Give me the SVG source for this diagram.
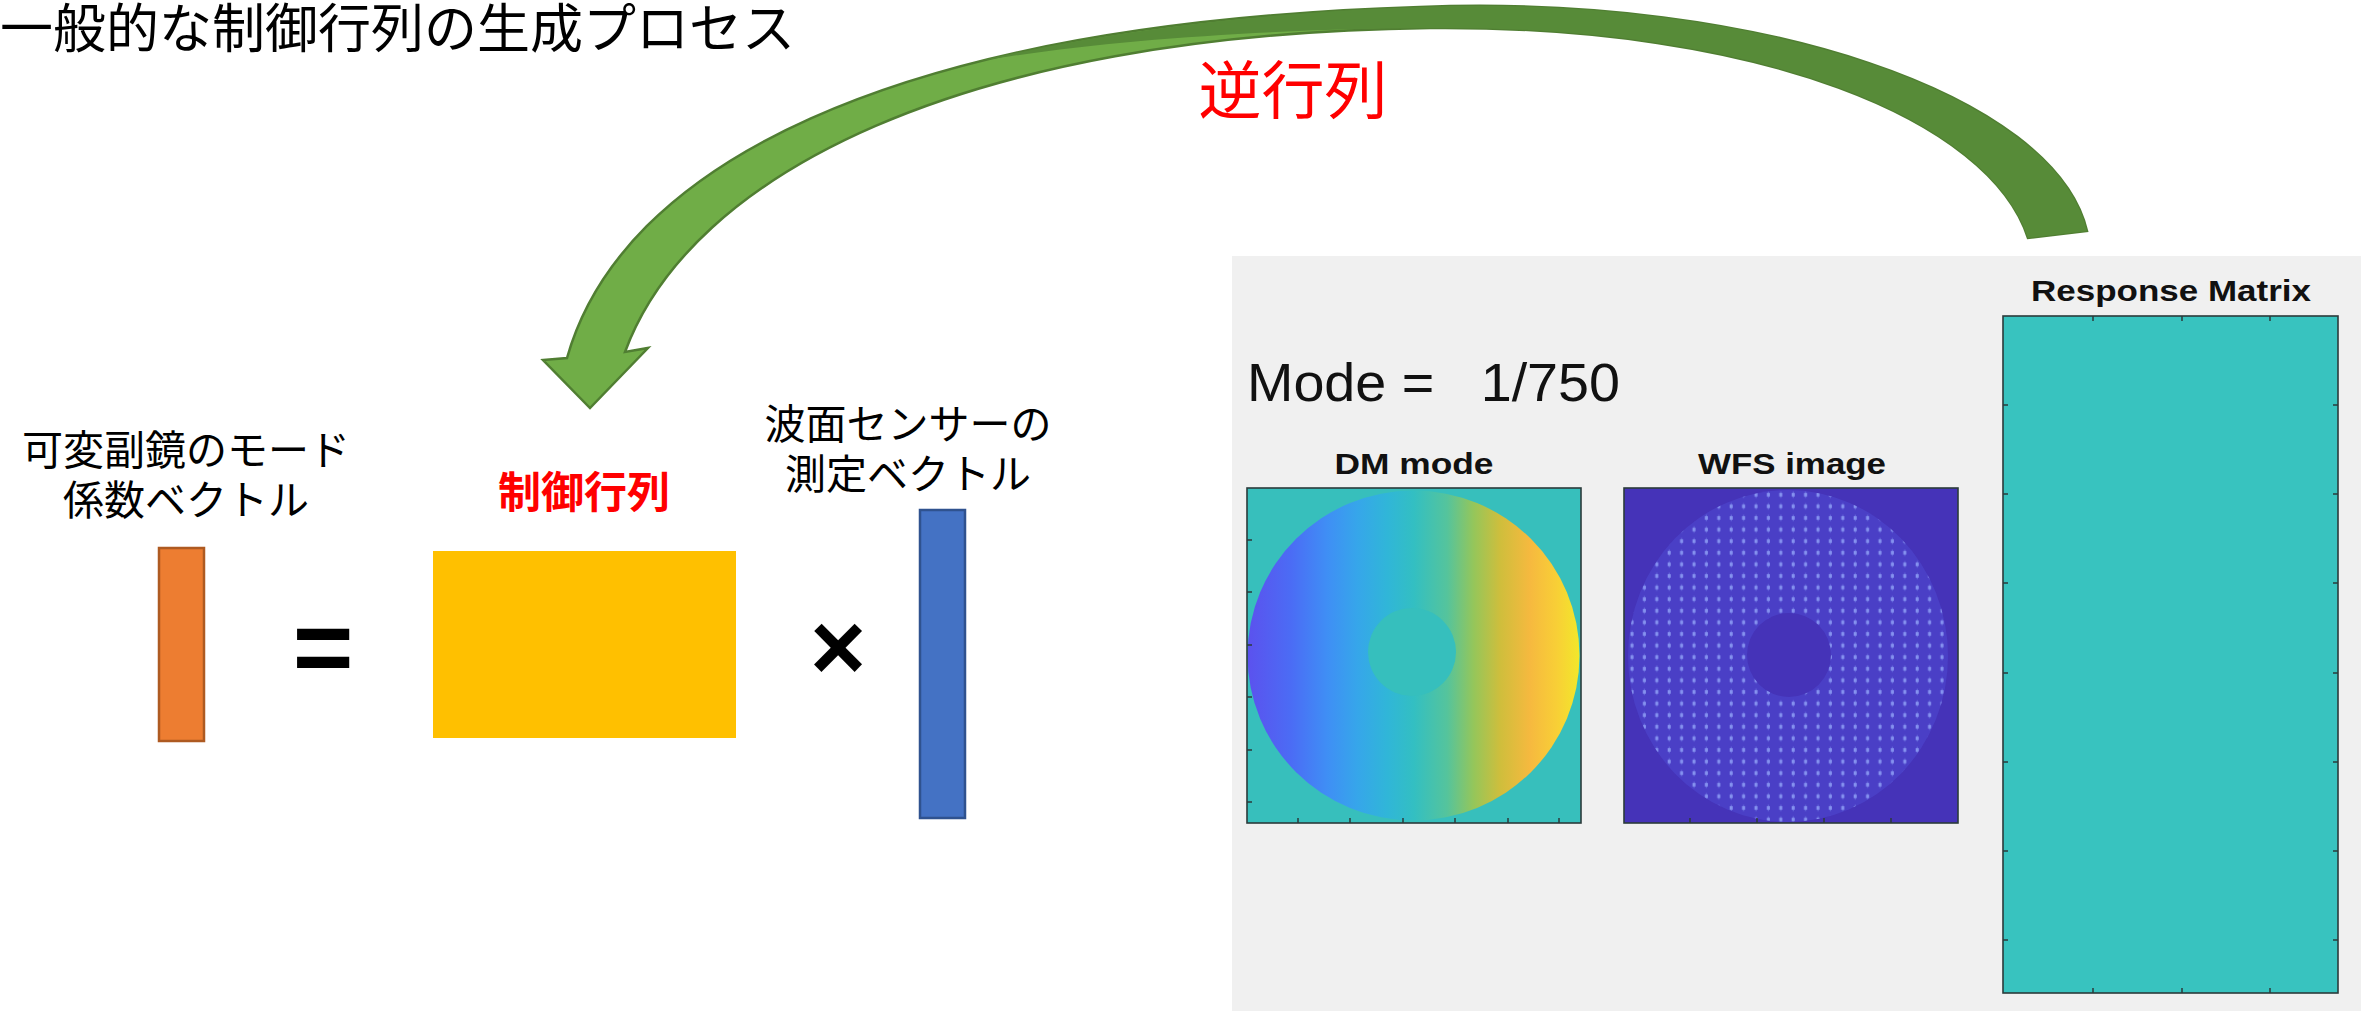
<svg xmlns="http://www.w3.org/2000/svg" width="2361" height="1012" viewBox="0 0 2361 1012">
  <style>
    .jp { font-family: "Noto Sans CJK JP", "Noto Sans", sans-serif; fill: #000; }
    .red { fill: #ff0000; }
    .op { font-family: "Liberation Sans", Arial, sans-serif; font-weight: bold; fill: #000; }
    .plot-title { font-family: "Liberation Sans", Arial, sans-serif; font-weight: bold; fill: #111; }
    .axes { fill: none; stroke: #2b3b3b; stroke-width: 1.6; }
    .tick { stroke: #2b3b3b; stroke-width: 1.5; }
  </style>
  <defs>
    <linearGradient id="tiltGrad" gradientUnits="userSpaceOnUse" x1="1248" y1="0" x2="1580" y2="0">
      <stop offset="0" stop-color="#5b52ee"/>
      <stop offset="0.13" stop-color="#4b6cf5"/>
      <stop offset="0.24" stop-color="#3f8ff5"/>
      <stop offset="0.33" stop-color="#36a6ea"/>
      <stop offset="0.42" stop-color="#30b6d8"/>
      <stop offset="0.5" stop-color="#33bfc2"/>
      <stop offset="0.6" stop-color="#55c49c"/>
      <stop offset="0.68" stop-color="#95c65a"/>
      <stop offset="0.76" stop-color="#cfbe3c"/>
      <stop offset="0.85" stop-color="#f6b93f"/>
      <stop offset="0.93" stop-color="#f8cf36"/>
      <stop offset="1" stop-color="#f2e82a"/>
    </linearGradient>
    <pattern id="spots" patternUnits="userSpaceOnUse" x="1626" y="489" width="12.4" height="11.6">
      <rect x="4.5" y="4" width="3" height="3.5" fill="#93a4f7" opacity="0.85"/>
      <rect x="5.5" y="2.5" width="1" height="6.5" fill="#7d8ef0" opacity="0.6"/>
    </pattern>
    <mask id="pupil">
      <ellipse cx="1788" cy="656" rx="160" ry="166" fill="#fff"/>
      <circle cx="1789" cy="655" r="42" fill="#000"/>
    </mask>
    <clipPath id="wfsClip"><rect x="1624" y="488" width="334" height="335"/></clipPath>
  </defs>

  <rect width="2361" height="1012" fill="#fff"/>

  <!-- heading -->
  <g id="title">
    <text class="jp" x="0" y="48" font-size="53">一般的な制御行列の生成プロセス</text>
  </g>

  <!-- left side of the equation -->
  <g id="dm-coeff-vector">
    <text class="jp" x="186" y="465" font-size="41" text-anchor="middle">可変副鏡のモード</text>
    <text class="jp" x="186" y="515" font-size="41" text-anchor="middle">係数ベクトル</text>
    <rect x="159" y="548" width="45" height="193" fill="#ed7d31" stroke="#ae5a21" stroke-width="2.5"/>
  </g>

  <g id="equals-sign">
    <text class="op" x="323" y="683" font-size="104" text-anchor="middle">=</text>
  </g>

  <g id="control-matrix">
    <text class="jp red" x="584" y="508" font-size="43" font-weight="bold" text-anchor="middle">制御行列</text>
    <rect x="433" y="551" width="303" height="187" fill="#ffc000"/>
  </g>

  <g id="times-sign">
    <text class="op" x="838" y="680" font-size="96" text-anchor="middle">×</text>
  </g>

  <g id="wfs-vector">
    <text class="jp" x="908" y="439" font-size="41" text-anchor="middle">波面センサーの</text>
    <text class="jp" x="908" y="489" font-size="41" text-anchor="middle">測定ベクトル</text>
    <rect x="920" y="510" width="45" height="308" fill="#4472c4" stroke="#2f528f" stroke-width="2.5"/>
  </g>

  <!-- MATLAB figure window -->
  <g id="figure-panel">
    <rect x="1232" y="256" width="1129" height="755" fill="#f0f0f0"/>
    <text x="1247" y="401" font-family="'Liberation Sans', Arial, sans-serif" font-size="53" fill="#111" textLength="373" lengthAdjust="spacingAndGlyphs" xml:space="preserve">Mode =   1/750</text>

    <!-- DM mode plot -->
    <text class="plot-title" x="1414" y="474" font-size="29" text-anchor="middle" textLength="159" lengthAdjust="spacingAndGlyphs">DM mode</text>
    <rect x="1247" y="488" width="334" height="335" fill="#37bfbc"/>
    <ellipse cx="1413.5" cy="655.5" rx="166" ry="165" fill="url(#tiltGrad)"/>
    <circle cx="1412" cy="652" r="44" fill="#36bfbd"/>
    <rect class="axes" x="1247" y="488" width="334" height="335"/>
    <path class="tick" d="M1298 823v-5M1350 823v-5M1403 823v-5M1455 823v-5M1508 823v-5M1559 823v-5M1247 540h5M1247 592h5M1247 645h5M1247 697h5M1247 750h5M1247 802h5"/>

    <!-- WFS image plot -->
    <text class="plot-title" x="1792" y="474" font-size="29" text-anchor="middle" textLength="188" lengthAdjust="spacingAndGlyphs">WFS image</text>
    <rect x="1624" y="488" width="334" height="335" fill="#4533b8"/>
    <g clip-path="url(#wfsClip)" mask="url(#pupil)">
      <rect x="1624" y="488" width="334" height="335" fill="#4a3fc6"/>
      <rect x="1624" y="488" width="334" height="335" fill="url(#spots)"/>
    </g>
    <rect class="axes" x="1624" y="488" width="334" height="335"/>
    <path class="tick" d="M1690 823v-5M1757 823v-5M1824 823v-5M1891 823v-5"/>

    <!-- response matrix plot -->
    <text class="plot-title" x="2171" y="301" font-size="30" text-anchor="middle" textLength="280" lengthAdjust="spacingAndGlyphs">Response Matrix</text>
    <rect x="2003" y="316" width="335" height="677" fill="#38c3bf"/>
    <rect class="axes" x="2003" y="316" width="335" height="677"/>
    <path class="tick" d="M2093 316v5M2182 316v5M2270 316v5M2093 993v-5M2182 993v-5M2270 993v-5M2003 405h5M2003 494h5M2003 583h5M2003 673h5M2003 762h5M2003 851h5M2003 940h5M2338 405h-5M2338 494h-5M2338 583h-5M2338 673h-5M2338 762h-5M2338 851h-5M2338 940h-5"/>
  </g>

  <!-- curved arrow: response matrix inverted into the control matrix -->
  <g id="connectors">
    <path id="inverse-arrow" d="M2087 231 C2055 95 1760 -6 1420 7 C880 24 620 170 567 358 L543 360 L590 408 L648 348 L625 352 C690 175 960 34 1430 28 C1760 25 1990 120 2028 238 Z" fill="#70ad47" stroke="#507e32" stroke-width="2.5" stroke-linejoin="miter"/>
    <path d="M2087 231 C2055 95 1760 -6 1420 7 C1240 13 1090 35 975 62 C1100 40 1270 29 1430 28 C1760 25 1990 120 2028 238 Z" fill="#578b38"/>
    <text class="jp red" x="1293" y="113" font-size="63" text-anchor="middle">逆行列</text>
  </g>
</svg>
